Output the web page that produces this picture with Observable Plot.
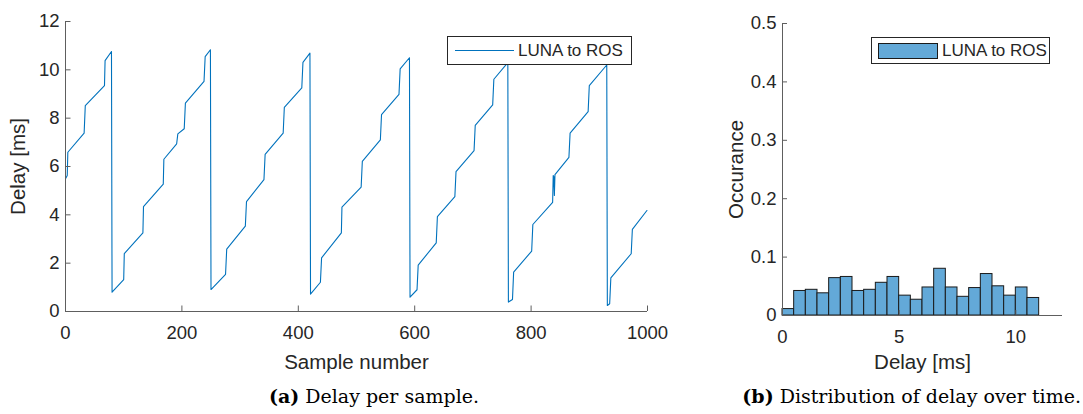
<!DOCTYPE html>
<html><head><meta charset="utf-8">
<script src="https://cdn.jsdelivr.net/npm/d3@7"></script>
<script src="https://cdn.jsdelivr.net/npm/@observablehq/plot@0.6"></script>
<style>
body{margin:0;background:#fff;}
#fig{position:relative;width:1083px;height:414px;overflow:hidden;font-family:"Liberation Sans",Arial,sans-serif;}
.panel{position:absolute;top:0;}
.legend{position:absolute;background:#fff;border:1px solid #262626;box-sizing:border-box;font-size:17px;color:#262626;}
.legend .txt{position:absolute;white-space:nowrap;line-height:1;}
.caption{position:absolute;top:385px;font-family:"DejaVu Serif",serif;font-size:19px;color:#000;white-space:nowrap;}
svg [aria-label$="axis label"] text{font-size:20.5px;}
</style>
</head><body>
<div id="fig">
  <div id="left" class="panel" style="left:0px"></div>
  <div id="right" class="panel" style="left:700px"></div>
  <div class="legend" style="left:447px;top:36px;width:185px;height:29px;">
    <div style="position:absolute;left:7px;top:13px;width:59px;height:1px;background:#0072BD;"></div>
    <div class="txt" style="left:70px;top:5px;">LUNA to ROS</div>
  </div>
  <div class="legend" style="left:871px;top:37px;width:179px;height:27px;">
    <div style="position:absolute;left:6px;top:5px;width:60px;height:16px;background:#63A9D8;border:1px solid #1a1a1a;box-sizing:border-box;"></div>
    <div class="txt" style="left:70px;top:4px;">LUNA to ROS</div>
  </div>
  <div class="caption" style="left:174px;width:400px;text-align:center;"><b>(a)</b> Delay per sample.</div>
  <div class="caption" style="right:2px;text-align:right;"><b>(b)</b> Distribution of delay over time.</div>
</div>
<script>
// ---- Left panel: delay per sample (breakpoints) ----
const sampleIdx = [0,3,4,32,34,67,68,79,80,
  100,101,133,134,168,169,191,193,204,206,238,240,249,250,
  275,277,309,311,341,343,374,376,406,408,420,421,
  438,440,474,475,508,510,541,543,573,575,591,592,
  604,606,637,639,669,671,702,704,734,736,760,761,
  768,770,801,803,837,838,839,840,841,865,867,898,900,930,931,
  935,937,972,974,999];
const delayMs = [5.49,5.63,6.59,7.38,8.52,9.35,10.38,10.76,0.80,
  1.32,2.39,3.25,4.34,5.27,6.30,6.94,7.35,7.56,8.62,9.52,10.55,10.83,0.91,
  1.54,2.58,3.53,4.55,5.46,6.50,7.38,8.45,9.25,10.31,10.69,0.72,
  1.21,2.22,3.25,4.32,5.15,6.21,7.10,8.15,8.98,10.04,10.50,0.59,
  0.90,1.92,2.84,3.93,4.75,5.79,6.66,7.70,8.55,9.61,10.30,0.39,
  0.50,1.63,2.50,3.60,4.52,5.63,5.58,4.80,5.66,6.38,7.38,8.27,9.35,10.20,0.25,
  0.32,1.39,2.39,3.40,4.18];
const xTicksLeft = [0,200,400,600,800,1000];
const yTicksLeft = [0,2,4,6,8,10,12];

// ---- Right panel: histogram (normalized) ----
const binEdges = [0,0.5,1,1.5,2,2.5,3,3.5,4,4.5,5,5.5,6,6.5,7,7.5,8,8.5,9,9.5,10,10.5,11];
const occurrence = [0.011,0.042,0.044,0.038,0.064,0.066,0.042,0.044,0.056,0.066,0.034,0.027,
  0.048,0.080,0.048,0.032,0.047,0.071,0.050,0.034,0.048,0.030];
const xTicksRight = [0,5,10];
const yTicksRight = [0,0.1,0.2,0.3,0.4,0.5];

const lineData = sampleIdx.map((s,i)=>({s, d: delayMs[i]}));
const bins = occurrence.map((v,i)=>({x0: binEdges[i], x1: binEdges[i+1], v}));

const axisColor = "#5e5e5e";
const baseStyle = {fontFamily:"'Liberation Sans', Arial, sans-serif", fontSize:"18.5px", color:"#262626", background:"transparent", overflow:"visible"};

const left = Plot.plot({
  width: 690, height: 370,
  marginLeft: 65, marginRight: 43, marginTop: 21, marginBottom: 59,
  style: baseStyle,
  x: {domain: [0,1000]},
  y: {domain: [0,12]},
  marks: [
    Plot.line(lineData, {x:"s", y:"d", stroke:"#0072BD", strokeWidth:1.1}),
    Plot.ruleX([0], {stroke: axisColor}),
    Plot.ruleY([0], {stroke: axisColor}),
    Plot.axisX({ticks: xTicksLeft, tickSize:-5.5, tickPadding:19.5, tickFormat: d=>String(d), stroke: axisColor,
      label:"Sample number", labelAnchor:"center", labelOffset:57, labelArrow:"none"}),
    Plot.axisY({ticks: yTicksLeft, tickSize:-5.5, tickPadding:11.5, tickFormat: d=>String(d), stroke: axisColor,
      label:"Delay [ms]", labelAnchor:"center", labelOffset:55, labelArrow:"none"})
  ]
});
document.getElementById("left").appendChild(left);

const right = Plot.plot({
  width: 383, height: 370,
  marginLeft: 82, marginRight: 21, marginTop: 23, marginBottom: 55,
  style: baseStyle,
  x: {domain: [0,12]},
  y: {domain: [0,0.5]},
  marks: [
    Plot.rectY(bins, {x1:"x0", x2:"x1", y:"v", fill:"#63A9D8", stroke:"#1a1a1a", strokeWidth:1}),
    Plot.ruleX([0], {stroke: axisColor}),
    Plot.ruleY([0], {stroke: axisColor}),
    Plot.axisX({ticks: xTicksRight, tickSize:-5, tickPadding:19, tickFormat: d=>String(d), stroke: axisColor,
      label:"Delay [ms]", labelAnchor:"center", labelOffset:53, labelArrow:"none"}),
    Plot.axisY({ticks: yTicksRight, tickSize:-5, tickPadding:11, tickFormat: d=>String(d), stroke: axisColor,
      label:"Occurance", labelAnchor:"center", labelOffset:54, labelArrow:"none"})
  ]
});
document.getElementById("right").appendChild(right);
</script>
</body></html>
